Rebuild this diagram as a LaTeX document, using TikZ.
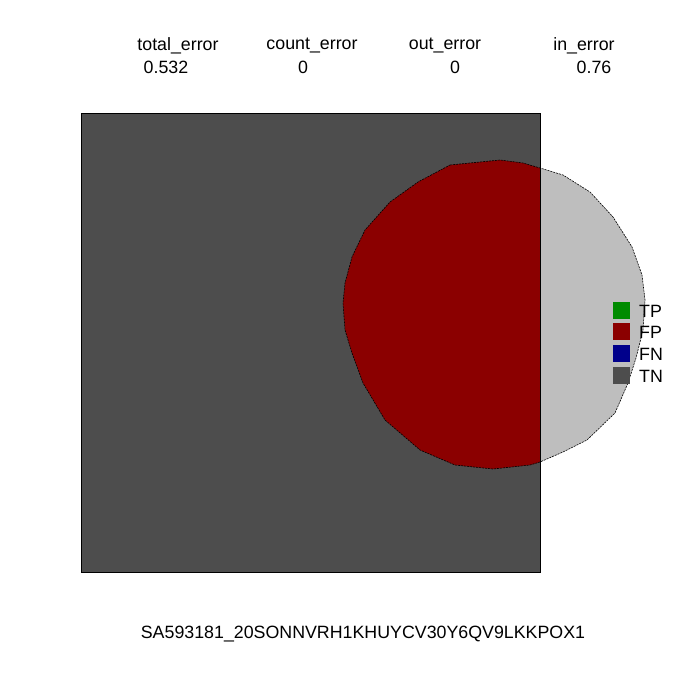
\documentclass[tikz,border=0pt]{standalone}
\usepackage{fontspec}
\setmainfont{Liberation Sans}
\usepackage{tikz}
\usetikzlibrary{positioning}
\usepackage{xcolor}
\definecolor{tnGray}{RGB}{77,77,77}
\definecolor{fpRed}{RGB}{139,0,0}
\definecolor{tpGreen}{RGB}{0,139,0}
\definecolor{fnBlue}{RGB}{0,0,139}
\definecolor{outGray}{RGB}{190,190,190}

\begin{document}
\begin{tikzpicture}[x=1pt, y=-1pt,
  lbl/.style={font=\fontsize{17.8}{20}\selectfont, inner sep=0pt},
  keybox/.style={minimum size=17pt, inner sep=0pt, draw=none}]
  \useasboundingbox[fill=white] (0,0) rectangle (700,700);
  % scores
  \node[lbl] (totalhead) at (178,46) {total\_error};
  \node[lbl] (counthead) at (312,46) {count\_error};
  \node[lbl] (outhead) at (445,46) {out\_error};
  \node[lbl] (inhead) at (584,46) {in\_error};
  \node[lbl] (totalval) at (166,67) {0.532};
  \node[lbl] (countval) at (303,67) {0};
  \node[lbl] (outval) at (455,67) {0};
  \node[lbl] (inval) at (594,67) {0.76};
  % ground truth box
  \fill[tnGray] (81,113) rectangle (540,572);
  \path[save path=\blob] (450,165) -- (500,160) -- (523,163) -- (540,168) -- (563,175)
    -- (590,192) -- (613,217) -- (632,247) -- (642,275) -- (645,300) -- (643,330)
    -- (636,358) -- (628,383) -- (615,413) -- (587,440) -- (563,452) -- (540,462)
    -- (530,465) -- (493,469) -- (455,465) -- (420,450) -- (385,420) -- (363,383)
    -- (352,353) -- (345,330) -- (343,303) -- (345,283) -- (352,257) -- (365,230)
    -- (390,202) -- (418,182) -- cycle;
  \begin{scope}
    \clip (81,113) rectangle (540,572);
    \fill[fpRed, use path=\blob];
  \end{scope}
  \begin{scope}
    \clip (540,100) rectangle (700,600);
    \fill[outGray, use path=\blob];
  \end{scope}
  \draw[black, line width=0.6pt, dash pattern=on 2pt off 1pt, use path=\blob];
  \draw[black, line width=0.8pt] (81,113) rectangle (540,572);
  % legend
  \node[keybox, fill=tpGreen] (tpkey) at (621,310) {};
  \node[keybox, fill=fpRed] (fpkey) at (621,331.5) {};
  \node[keybox, fill=fnBlue] (fnkey) at (621,353) {};
  \node[keybox, fill=tnGray] (tnkey) at (621,375) {};
  \node[lbl, anchor=west] (tplbl) at (639,311) {TP};
  \node[lbl, anchor=west] (fplbl) at (639,332.5) {FP};
  \node[lbl, anchor=west] (fnlbl) at (639,354) {FN};
  \node[lbl, anchor=west] (tnlbl) at (639,376) {TN};
  % image id
  \node[lbl] (imgid) at (363,634) {SA593181\_20SONNVRH1KHUYCV30Y6QV9LKKPOX1};
\end{tikzpicture}
\end{document}
